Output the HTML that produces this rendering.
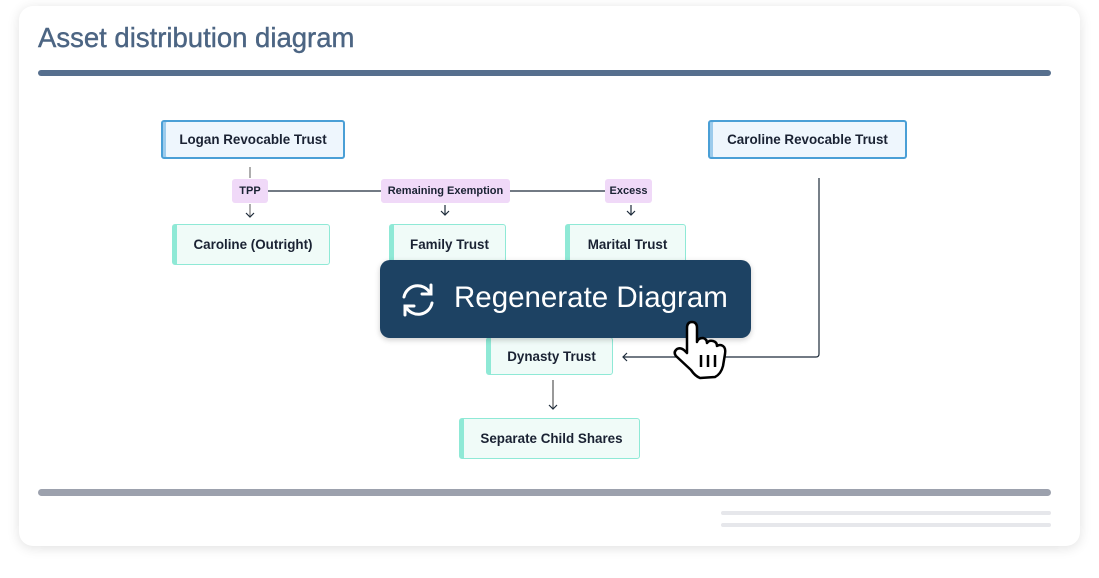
<!DOCTYPE html>
<html><head><style>
body{margin:0;width:1099px;height:578px;background:#fff;position:relative;font-family:"Liberation Sans",sans-serif;overflow:hidden}
.card{position:absolute;left:19px;top:6px;width:1061px;height:540px;border-radius:14px;background:#fff;box-shadow:0 2px 12px rgba(0,0,0,0.12)}
.title{position:absolute;left:38px;top:22px;font-size:27.5px;color:#4c6583;-webkit-text-stroke:0.4px #4c6583}
.bar{position:absolute;left:38px;width:1013px;border-radius:4px}
.n{position:absolute;box-sizing:border-box;display:flex;align-items:center;justify-content:center;font-weight:bold;font-size:13.4px;color:#1a2233;border-radius:3px}
.b{background:#eef6fd;border:2px solid #4a9fd6;box-shadow:inset 3px 0 0 #9ccbec}
.g{background:#f0fbf8;border:1.5px solid #8fe9d6;border-left:5px solid #8fe9d6}
.l{position:absolute;background:#f0d9f8;border-radius:3px;font-size:11px;font-weight:bold;color:#1a2233;display:flex;align-items:center;justify-content:center}
</style></head><body>
<div class="card"></div>
<div class="title">Asset distribution diagram</div>
<div class="bar" style="top:70px;height:6px;background:#566f8e"></div>
<div class="bar" style="top:489px;height:7px;background:#9ca1ad"></div>
<div style="position:absolute;left:721px;top:511px;width:330px;height:4px;background:#e6e7eb;border-radius:2px"></div>
<div style="position:absolute;left:721px;top:523px;width:330px;height:4px;background:#e6e7eb;border-radius:2px"></div>
<svg width="1099" height="578" style="position:absolute;left:0;top:0" fill="none" stroke="#1d2b3a" stroke-width="1.2">
<line x1="250" y1="167" x2="250" y2="178" stroke="#777"/>
<line x1="250" y1="204" x2="250" y2="217" stroke="#777"/>
<path d="M246 213 L250 217 L254 213"/>
<line x1="268" y1="191" x2="381" y2="191"/>
<line x1="510" y1="191" x2="605" y2="191"/>
<line x1="445" y1="205" x2="445" y2="215"/><path d="M441 211 L445 215 L449 211"/>
<line x1="631" y1="205" x2="631" y2="215"/><path d="M627 211 L631 215 L635 211"/>
<path d="M819 178 L819 354 Q819 357 816 357 L623 357" stroke="#1d2b3a"/>
<path d="M627 353 L623 357 L627 361"/>
<line x1="553" y1="380" x2="553" y2="409" stroke="#555"/><path d="M549 405 L553 409 L557 405"/>
</svg>
<div class="n b" style="left:161px;top:120px;width:184px;height:39px">Logan Revocable Trust</div>
<div class="n b" style="left:708px;top:120px;width:199px;height:39px">Caroline Revocable Trust</div>
<div class="l" style="left:232px;top:179px;width:36px;height:24px">TPP</div>
<div class="l" style="left:381px;top:179px;width:129px;height:24px">Remaining Exemption</div>
<div class="l" style="left:605px;top:179px;width:47px;height:24px">Excess</div>
<div class="n g" style="left:172px;top:224px;width:158px;height:41px">Caroline (Outright)</div>
<div class="n g" style="left:389px;top:224px;width:117px;height:41px">Family Trust</div>
<div class="n g" style="left:565px;top:224px;width:121px;height:41px">Marital Trust</div>
<div class="n g" style="left:486px;top:337px;width:127px;height:38px">Dynasty Trust</div>
<div class="n g" style="left:459px;top:418px;width:181px;height:41px">Separate Child Shares</div>
<div style="position:absolute;left:380px;top:260px;width:371px;height:78px;background:#1d4263;border-radius:10px;box-shadow:0 2px 6px rgba(0,0,0,0.2)"></div>
<svg width="40" height="40" style="position:absolute;left:398px;top:280px" fill="none" stroke="#fff" stroke-width="3" stroke-linecap="round">
<path d="M6 17 A14 14 0 0 1 32 13"/><path d="M33 5 L33 14 L24 14"/>
<path d="M34 23 A14 14 0 0 1 8 27"/><path d="M7 35 L7 26 L16 26"/>
</svg>
<div style="position:absolute;left:454px;top:279px;font-size:29.5px;color:#fff;line-height:38px">Regenerate Diagram</div>
<svg width="60" height="60" style="position:absolute;left:670px;top:320px">
<path d="M17 8 Q17 2 22 2 Q27 2 27 8 L27 22 Q28 18 33 18 Q37 19 37 23 Q39 20 43 21 Q47 22 47 26 Q50 24 53 26 Q56 28 55 34 L53 46 Q51 54 45 57 L30 58 Q25 56 21 50 L6 36 Q3 32 7 29 Q11 27 15 31 L17 33 Z" fill="#fff" stroke="#000" stroke-width="2.5" stroke-linejoin="round"/>
<path d="M31 35 V47 M38 35 V47 M45 35 V47" stroke="#000" stroke-width="2.5"/>
</svg>
</body></html>
